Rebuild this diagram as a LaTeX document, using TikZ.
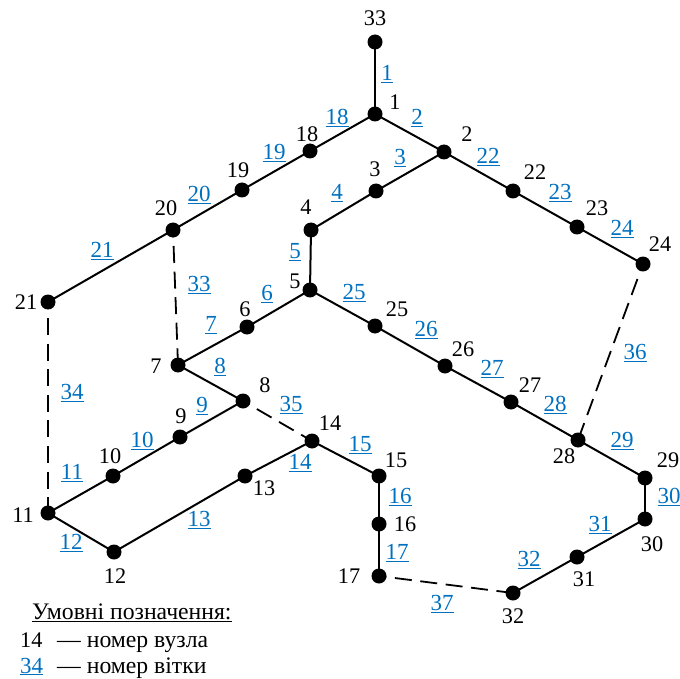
\documentclass[tikz,border=0pt]{standalone}
\usepackage{fontspec}
\setmainfont{Liberation Serif}
\definecolor{lnk}{RGB}{0,112,192}
\tikzset{
 x=1pt,y=-1pt,
 vtx/.style={circle,fill=black,inner sep=0pt,minimum size=15pt},
 nl/.style={inner sep=0pt,font=\fontsize{22.3}{24}\selectfont},
 lg/.style={inner sep=0pt,font=\fontsize{23.7}{25}\selectfont},
 bl/.style={inner sep=0pt,text=lnk,font=\fontsize{23}{24}\selectfont},
 lnedge/.style={draw=black,line width=2pt},
 dashedge/.style={draw=black,line width=1.8pt,dash pattern=on 17pt off 8.6pt,dash phase=9.6pt},
}
\newcommand{\ulx}[1]{\underline{#1}}
\begin{document}
\begin{tikzpicture}
\useasboundingbox (0,0) rectangle (680,679);
\foreach \a/\b in {20/7,21/11,8/14,24/28,17/32}{}
\foreach \n/\x/\y in {33/375/42,1/375/114,2/444/152,3/376/191,4/311/230,5/310/290,6/247/327,7/178/365,8/243/401,9/180/437,10/113/476,11/48/513,12/114/552,13/245/476,14/312/441,15/379/476,16/379/524,17/379/576,18/310/151,19/242/190,20/173/230,21/48/302,22/513/191,23/577/227,24/643/264,25/375/326,26/445/366,27/511/402,28/578/440,29/645/478,30/645/519,31/577/557,32/513/593}
  \node[vtx] (v\n) at (\x,\y) {};
\foreach \a/\b in {33/1,1/2,2/3,3/4,4/5,5/6,6/7,7/8,8/9,9/10,10/11,11/12,12/13,13/14,14/15,15/16,16/17,1/18,18/19,19/20,20/21,2/22,22/23,23/24,5/25,25/26,26/27,27/28,28/29,29/30,30/31,31/32}
  \draw[lnedge] (v\a.center) -- (v\b.center);
\foreach \a/\b in {20/7,21/11,8/14,24/28,17/32}
  \draw[dashedge] (v\a.center) -- (v\b.center);
\foreach \t/\x/\y in {33/375/18,1/395/102,2/467/134,3/375/169,4/306/207,5/295/281,6/245/309,7/156/366,8/265/385,9/181/416,10/110/456,11/23/515,12/115/576,13/264/488,14/330/423,15/396/460,16/405/524,17/349/576,18/307/134,19/238/170,20/166/208,21/26/302,22/535/172,23/597/208,24/660/244,25/397/309,26/463/349,27/530/385,28/564/456,29/668/460,30/652/544,31/584/579,32/513/616}
  \node[nl] (n\t) at (\x,\y) {\t};
\foreach \t/\x/\y in {1/387/74,2/417/118,3/400/158,4/337/193,5/295/252,6/267/294,7/211/325,8/220/367,9/202/406,10/142/441,11/72/473,12/71/543,13/199/520,14/300/463,15/360/445,16/400/497,17/397/553,18/337/118,19/274/153,20/199/195,21/102/251,22/488/157,23/560/193,24/622/229,25/354/293,26/426/330,27/492/369,28/555/405,29/622/441,30/669/497,31/600/525,32/529/560,33/199/285,34/72/393,35/291/405,36/635/353,37/442/604}
  \node[bl] (b\t) at (\x,\y) {\ulx{\t}};
\node[lg,anchor=base west] (lgt) at (32,619) {\underline{Умовні позначення:}};
\node[nl,anchor=base west] (l1) at (20,647) {14};
\node[lg,anchor=base west] (l2) at (57,647) {— номер вузла};
\node[bl,anchor=base west] (l3) at (20,673) {\ulx{34}};
\node[lg,anchor=base west] (l4) at (57,673) {— номер вітки};
\end{tikzpicture}
\end{document}
